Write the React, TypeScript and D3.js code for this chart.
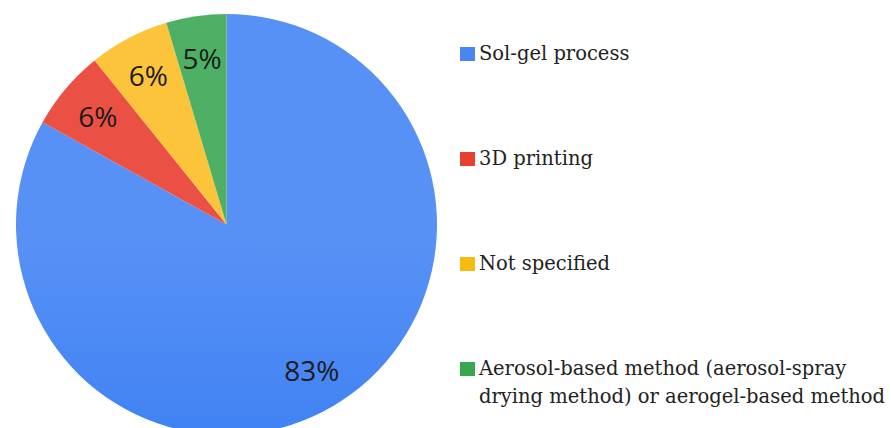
import React from "react";
import * as d3 from "d3";

const categories = [
  "Sol-gel process",
  "3D printing",
  "Not specified",
  "Aerosol-based method (aerosol-spray drying method) or aerogel-based method",
];
const legendLines = [
  ["Sol-gel process"],
  ["3D printing"],
  ["Not specified"],
  ["Aerosol-based method (aerosol-spray", "drying method) or aerogel-based method"],
];
const values = [54, 4, 4, 3];
const labels = ["83%", "6%", "6%", "5%"];
const topColors = ["#5891f6", "#ea5044", "#fcc43a", "#4eb064"];
const midColors = ["#4183f3", "#e83d2c", "#f8b908", "#36a94f"];
const bottomColors = ["#2a6ee2", "#de2c18", "#f0ac00", "#24a040"];
const legendColors = ["#4a86f2", "#e8402f", "#f7bb10", "#37a850"];

const W = 891;
const H = 428;
const cx = 226.5;
const cy = 224.5;
const R = 210.5;

export default function App() {
  const pie = d3.pie<number>().sort(null).startAngle(0).endAngle(2 * Math.PI);
  const arcs = pie(values);
  const arc = d3.arc<d3.PieArcDatum<number>>().innerRadius(0).outerRadius(R);
  const labelArc = d3
    .arc<d3.PieArcDatum<number>>()
    .innerRadius(R * 0.8)
    .outerRadius(R * 0.8);
  const legendY = d3.scaleLinear().domain([0, 3]).range([54, 369]);

  return (
    <svg
      width={W}
      height={H}
      style={{ position: "absolute", left: 0, top: 0, background: "#fff" }}
    >
      <defs>
        {topColors.map((c, i) => (
          <linearGradient
            key={i}
            id={`g${i}`}
            gradientUnits="userSpaceOnUse"
            x1={0}
            y1={cy - R}
            x2={0}
            y2={cy + R}
          >
            <stop offset="0" stopColor={c} />
            <stop offset="0.45" stopColor={midColors[i]} />
            <stop offset="1" stopColor={bottomColors[i]} />
          </linearGradient>
        ))}
      </defs>
      <g transform={`translate(${cx},${cy})`}>
        {arcs.map((a, i) => (
          <path key={i} d={arc(a) || ""} fill={`url(#g${i})`} stroke="none" />
        ))}
        {arcs.map((a, i) => {
          const [x, y] = labelArc.centroid(a);
          return (
            <text
              key={`t${i}`}
              x={x}
              y={y}
              textAnchor="middle"
              dominantBaseline="central"
              fontFamily="'Open Sans', sans-serif"
              fontSize={28}
              fill="#1c1c1c"
            >
              {labels[i]}
            </text>
          );
        })}
      </g>
      <g>
        {categories.map((c, i) => {
          const y = legendY(i);
          return (
            <g key={c}>
              <rect x={460} y={y - 7} width={15} height={14} fill={legendColors[i]} />
              {legendLines[i].map((line, j) => (
                <text
                  key={j}
                  x={479}
                  y={y + 6 + j * 28}
                  fontFamily="'DejaVu Serif', serif"
                  fontSize={19.5}
                  fill="#222"
                >
                  {line}
                </text>
              ))}
            </g>
          );
        })}
      </g>
    </svg>
  );
}
